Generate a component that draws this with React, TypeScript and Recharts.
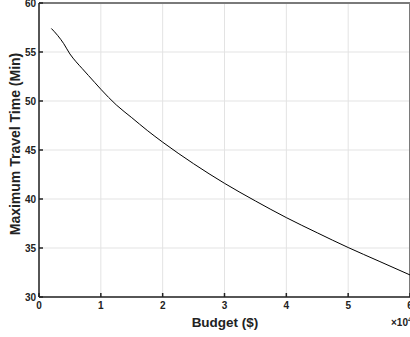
import React from 'react';
import { LineChart, Line, XAxis, YAxis, CartesianGrid, ReferenceLine } from 'recharts';

const budgets = [0.2, 0.3, 0.4, 0.5, 0.6, 0.7, 0.8, 0.9, 1.0, 1.25, 1.5, 1.75, 2.0, 2.5, 3.0, 3.5, 4.0, 4.5, 5.0, 5.5, 6.0];
const travelTimes = [57.4, 56.7, 55.85, 54.8, 54.0, 53.3, 52.6, 51.9, 51.2, 49.6, 48.3, 47.0, 45.8, 43.6, 41.6, 39.8, 38.1, 36.55, 35.05, 33.65, 32.25];
const xTicks = [0, 1, 2, 3, 4, 5, 6];
const yTicks = [30, 35, 40, 45, 50, 55, 60];

const data = budgets.map((b, i) => ({ b, t: travelTimes[i] }));

const FONT = '"Liberation Sans", Arial, Helvetica, sans-serif';

export default function App() {
  return (
    <div style={{ position: 'absolute', left: 0, top: 0, width: 410, height: 337, overflow: 'hidden', background: '#fff' }}>
      <LineChart width={430} height={337} data={data} margin={{ top: 3, right: 20, left: 0, bottom: 0 }}>
        <CartesianGrid stroke="#e3e3e3" strokeWidth={1} />
        <XAxis
          dataKey="b"
          type="number"
          domain={[0, 6]}
          ticks={xTicks}
          height={40}
          stroke="#222"
          strokeWidth={1.5}
          tickSize={4}
          tickMargin={1}
          tickLine={{ stroke: '#222', transform: 'translate(0,-4)' }}
          tick={{ fill: '#222', fontSize: 10, fontWeight: 'bold', fontFamily: FONT }}
          interval={0}
        />
        <YAxis
          dataKey="t"
          type="number"
          domain={[30, 60]}
          ticks={yTicks}
          width={39}
          stroke="#222"
          strokeWidth={1.5}
          tickSize={4}
          tickMargin={-1}
          tickLine={{ stroke: '#222', transform: 'translate(4,0)' }}
          tick={{ fill: '#222', fontSize: 10, fontWeight: 'bold', fontFamily: FONT }}
          interval={0}
        />
        <ReferenceLine y={60} stroke="#7a7a7a" strokeWidth={2} />
        <ReferenceLine x={6} stroke="#7a7a7a" strokeWidth={2} />
        <Line type="monotone" dataKey="t" stroke="#000" strokeWidth={1} dot={false} isAnimationActive={false} />
        <text x={225} y={327} textAnchor="middle" fontSize={13.5} fontWeight="bold" fontFamily={FONT} fill="#222">Budget ($)</text>
        <text x={20} y={144} textAnchor="middle" transform="rotate(-90,20,144)" fontSize={14} fontWeight="bold" fontFamily={FONT} fill="#222">Maximum Travel Time (Min)</text>
        <text x={391} y={326} fontSize={10} fontWeight="bold" fontFamily={FONT} fill="#222">×10<tspan dy={-4} fontSize={7}>4</tspan></text>
      </LineChart>
    </div>
  );
}
